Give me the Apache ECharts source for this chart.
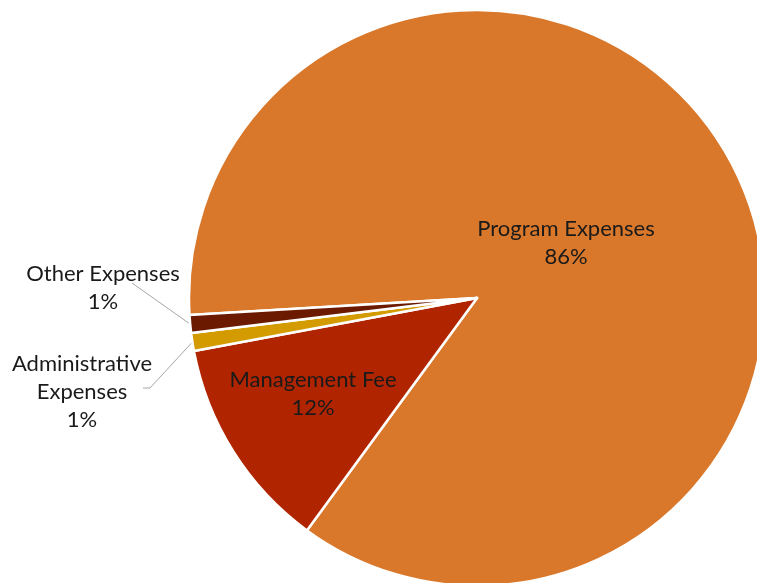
<!DOCTYPE html>
<html>
<head>
<meta charset="utf-8">
<script src="https://cdn.jsdelivr.net/npm/echarts@6/dist/echarts.min.js"></script>
<style>html,body{margin:0;padding:0;background:#fff;}#c{width:757px;height:583px;}</style>
</head>
<body>
<div id="c"></div>
<script>
const categories = ['Program Expenses', 'Management Fee', 'Administrative Expenses', 'Other Expenses'];
const values = [86, 12, 1, 1];
const labelNames = ['Program Expenses', 'Management Fee', 'Administrative\nExpenses', 'Other Expenses'];
const colors = ['#D9782B', '#B02500', '#D49B00', '#6B1A00'];
// label anchor positions (text placement only)
const labelPos = [[566, 243], [313, 394], [82, 392], [103, 288]];
// leader line end points near the text
const lineEnds = {2: [[150, 388], [143, 388]], 3: [[132, 283]]};

const chart = echarts.init(document.getElementById('c'), null, {renderer: 'canvas'});
const data = categories.map((c, i) => ({
  name: labelNames[i],
  value: values[i],
  itemStyle: {color: colors[i]},
  label: {position: i < 2 ? 'inside' : 'outside'},
  labelLine: {show: i >= 2}
}));
chart.setOption({
  animation: false,
  series: [{
    type: 'pie',
    center: [477, 298],
    radius: 288,
    startAngle: 183.4,
    clockwise: true,
    avoidLabelOverlap: false,
    data: data,
    itemStyle: {borderColor: '#fff', borderWidth: 2.5},
    label: {
      show: true,
      formatter: p => p.name + '\n' + Math.round(p.percent) + '%',
      fontFamily: 'Lato',
      fontSize: 22,
      lineHeight: 28,
      color: '#1a1a1a',
      align: 'center'
    },
    labelLine: {
      show: true,
      length: 20,
      length2: 10,
      lineStyle: {color: '#a6a6a6', width: 1}
    },
    labelLayout: function (p) {
      const L = labelPos[p.dataIndex];
      const out = {x: L[0], y: L[1], align: 'center', verticalAlign: 'middle'};
      if (lineEnds[p.dataIndex] && p.labelLinePoints) {
        out.labelLinePoints = [p.labelLinePoints[0]].concat(lineEnds[p.dataIndex]);
      }
      return out;
    }
  }]
});
</script>
</body>
</html>
